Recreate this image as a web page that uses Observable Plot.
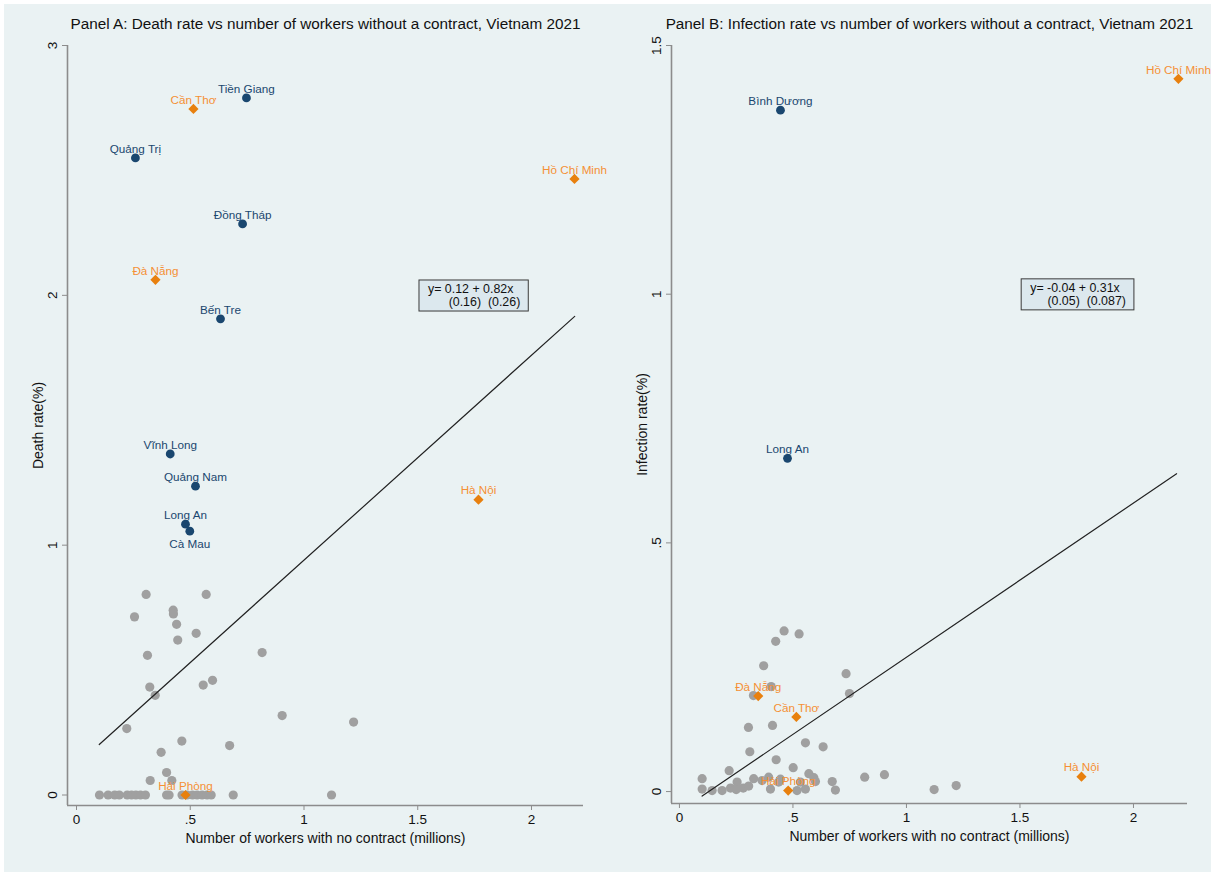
<!DOCTYPE html>
<html><head><meta charset="utf-8">
<script src="https://cdn.jsdelivr.net/npm/d3@7"></script>
<script src="https://cdn.jsdelivr.net/npm/@observablehq/plot@0.6"></script>
<style>
body{margin:0;background:#fff;}
#wrap{position:relative;width:1211px;height:872px;overflow:hidden;}
#bg{position:absolute;left:4px;top:4px;right:0;bottom:0;background:#eaf2f3;}
#pa{position:absolute;left:0;top:0;}
#pb{position:absolute;left:605px;top:0;}
</style></head><body>
<div id="wrap"><div id="bg"></div><div id="pa"></div><div id="pb"></div></div>
<script>
// ---------- Panel A: death rate ----------
const aTitle = "Panel A: Death rate vs number of workers without a contract, Vietnam 2021";
const aYLabel = "Death rate(%)";
const xLabel = "Number of workers with no contract (millions)";
const xTicks = [0, 0.5, 1, 1.5, 2];
const aYTicks = [0, 1, 2, 3];
const aNavyNames = ["Tiền Giang","Quảng Trị","Đồng Tháp","Bến Tre","Vĩnh Long","Quảng Nam","Long An","Cà Mau"];
const aNavyX = [0.747,0.259,0.730,0.633,0.412,0.523,0.479,0.498];
const aNavyY = [2.790,2.550,2.286,1.906,1.365,1.236,1.084,1.056];
const aOrangeNames = ["Cần Thơ","Hồ Chí Minh","Đà Nẵng","Hà Nội","Hải Phòng"];
const aOrangeX = [0.514,2.189,0.347,1.767,0.479];
const aOrangeY = [2.746,2.466,2.062,1.182,0.000];
const aGreyX = [0.306,0.570,0.255,0.425,0.426,0.440,0.526,0.445,0.312,0.816,0.322,0.346,0.557,0.598,0.221,0.904,1.218,0.463,0.673,0.372,0.396,0.324,0.419,
  0.101,0.139,0.168,0.188,0.223,0.242,0.261,0.281,0.303,0.396,0.407,0.464,0.486,0.510,0.530,0.552,0.574,0.592,0.689,1.121];
const aGreyY = [0.803,0.803,0.713,0.740,0.725,0.683,0.647,0.620,0.559,0.570,0.432,0.399,0.440,0.459,0.266,0.318,0.292,0.216,0.198,0.171,0.090,0.058,0.058,
  0,0,0,0,0,0,0,0,0,0,0,0,0,0,0,0,0,0,0,0];
const aFitX = [0.10, 2.19];
const aFitY = [0.202, 1.916];
const aBoxX = 1.545, aBoxY = 2.0;
const aBoxText = "y= 0.12 + 0.82x\n\u00a0\u00a0\u00a0\u00a0\u00a0\u00a0(0.16)\u00a0\u00a0(0.26)";

// ---------- Panel B: infection rate ----------
const bTitle = "Panel B: Infection rate vs number of workers without a contract, Vietnam 2021";
const bYLabel = "Infection rate(%)";
const bYTicks = [0, 0.5, 1, 1.5];
const bNavyNames = ["Bình Dương","Long An"];
const bNavyX = [0.445,0.476];
const bNavyY = [1.370,0.670];
const bOrangeNames = ["Hồ Chí Minh","Đà Nẵng","Cần Thơ","Hải Phòng","Hà Nội"];
const bOrangeX = [2.198,0.347,0.515,0.479,1.771];
const bOrangeY = [1.433,0.192,0.150,0.002,0.030];
const bGreyX = [0.461,0.527,0.424,0.371,0.734,0.404,0.749,0.326,0.304,0.410,0.555,0.633,0.310,0.426,0.501,0.219,0.570,0.592,0.599,0.816,0.903,1.219,1.122,
  0.100,0.100,0.144,0.188,0.225,0.254,0.250,0.281,0.305,0.327,0.364,0.401,0.437,0.533,0.518,0.555,0.673,0.687,0.393,0.445];
const bGreyY = [0.323,0.317,0.302,0.253,0.237,0.211,0.197,0.193,0.129,0.133,0.098,0.090,0.080,0.064,0.048,0.042,0.036,0.028,0.020,0.029,0.034,0.012,0.004,
  0.026,0.005,0.002,0.002,0.007,0.019,0.004,0.007,0.011,0.026,0.022,0.005,0.019,0.019,0.002,0.005,0.020,0.003,0.029,0.025];
const bFitX = [0.10, 2.19];
const bFitY = [-0.009, 0.639];
const bBoxX = 1.545, bBoxY = 1.0;
const bBoxText = "y= -0.04 + 0.31x\n\u00a0\u00a0\u00a0\u00a0\u00a0(0.05)\u00a0\u00a0(0.087)";

const NAVY = "#1a476f", ORANGE = "#e8800e", ORANGE_TXT = "#f59035", GREY = "#a0a0a0", AXIS = "#8c8c8c";
const fmt = d => d === 0 ? "0" : String(d).replace(/^0\./, ".");
const zip = (xs, ys, names) => xs.map((x, i) => ({x, y: ys[i], name: names ? names[i] : null}));

function panel(cfg) {
  const grey = zip(cfg.greyX, cfg.greyY);
  const navy = zip(cfg.navyX, cfg.navyY, cfg.navyNames);
  const orange = zip(cfg.orangeX, cfg.orangeY, cfg.orangeNames);
  const fit = zip(cfg.fitX, cfg.fitY);
  const below = new Set(cfg.below || []);
  return Plot.plot({
    width: cfg.width, height: 872,
    marginLeft: cfg.ml, marginRight: cfg.mr, marginTop: 45, marginBottom: cfg.mb,
    style: {background: "none", fontFamily: "'Liberation Sans', Arial, sans-serif", color: "#111"},
    x: {domain: cfg.xDomain},
    y: {domain: cfg.yDomain},
    marks: [
      Plot.dot(grey, {x: "x", y: "y", r: 4.6, fill: GREY}),
      Plot.line(fit, {x: "x", y: "y", stroke: "#222", strokeWidth: 1.2}),
      Plot.dot(navy, {x: "x", y: "y", r: 4.4, fill: NAVY}),
      Plot.dot(orange, {x: "x", y: "y", r: 4.6, symbol: "diamond2", fill: ORANGE}),
      Plot.text(navy.filter(d => !below.has(d.name)), {x: "x", y: "y", text: "name", fill: NAVY, fontSize: 11.7, dy: -9}),
      Plot.text(navy.filter(d => below.has(d.name)), {x: "x", y: "y", text: "name", fill: NAVY, fontSize: 11.7, dy: 13}),
      Plot.text(orange, {x: "x", y: "y", text: "name", fill: ORANGE_TXT, fontSize: 11.7, dy: -9}),
      Plot.text([cfg.boxText], {x: () => cfg.boxX, y: () => cfg.boxY, text: d => d, textAnchor: "start", lineAnchor: "middle", fontSize: 12.4, lineHeight: 1.05, fill: "#111", ariaDescription: "fitbox"}),
      Plot.ruleX([cfg.xDomain[0]], {stroke: AXIS, strokeWidth: 1.6}),
      Plot.ruleY([cfg.yDomain[0]], {stroke: AXIS, strokeWidth: 1.6}),
      Plot.axisX(xTicks, {tickSize: 5, tickPadding: 4, tickFormat: fmt, fontSize: 13.5, stroke: AXIS, fill: "#111", label: null}),
      Plot.axisY(cfg.yTicks, {tickSize: 5, tickFormat: () => "", stroke: AXIS, label: null}),
      Plot.text(cfg.yTicks, {y: d => d, text: fmt, frameAnchor: "left", textAnchor: "middle", lineAnchor: "middle", dx: -15, rotate: -90, fontSize: 13.5, fill: "#111"}),
      Plot.text([cfg.yLabel], {frameAnchor: "left", textAnchor: "middle", lineAnchor: "middle", dx: -29, rotate: -90, fontSize: 14, fill: "#111"}),
      Plot.text([xLabel], {frameAnchor: "bottom", textAnchor: "middle", lineAnchor: "middle", dy: 33, fontSize: 14, fill: "#111"}),
      Plot.text([cfg.title], {frameAnchor: "top", textAnchor: "middle", lineAnchor: "middle", dy: -21, fontSize: 15.3, fill: "#111"})
    ]
  });
}

function addBox(svg) {
  svg.querySelectorAll('g[aria-description="fitbox"] text').forEach(t => {
    const b = t.getBBox();
    const r = document.createElementNS("http://www.w3.org/2000/svg", "rect");
    r.setAttribute("x", b.x - 9);
    r.setAttribute("y", b.y - 2);
    r.setAttribute("width", b.width + 17);
    r.setAttribute("height", b.height + 4);
    r.setAttribute("fill", "#dce8ee");
    r.setAttribute("stroke", "#3a3a3a");
    r.setAttribute("stroke-width", "1");
    const tr = t.getAttribute("transform");
    if (tr) r.setAttribute("transform", tr);
    t.parentNode.insertBefore(r, t);
  });
}

// Panel A is drawn wider (its right margin overlaps Panel B's transparent left margin)
// so that the "Hồ Chí Minh" label is not cut off.
const svgA = panel({
  width: 645, ml: 67, mr: 62, mb: 67,
  xDomain: [-0.0396, 2.2286], yDomain: [-0.042, 3],
  greyX: aGreyX, greyY: aGreyY, navyX: aNavyX, navyY: aNavyY, navyNames: aNavyNames,
  orangeX: aOrangeX, orangeY: aOrangeY, orangeNames: aOrangeNames,
  fitX: aFitX, fitY: aFitY, boxX: aBoxX, boxY: aBoxY, boxText: aBoxText,
  yTicks: aYTicks, yLabel: aYLabel, title: aTitle, below: ["Cà Mau"]
});
document.getElementById("pa").appendChild(svgA);
addBox(svgA);

const svgB = panel({
  width: 606, ml: 66, mr: 24, mb: 69,
  xDomain: [-0.035, 2.238], yDomain: [-0.024, 1.5],
  greyX: bGreyX, greyY: bGreyY, navyX: bNavyX, navyY: bNavyY, navyNames: bNavyNames,
  orangeX: bOrangeX, orangeY: bOrangeY, orangeNames: bOrangeNames,
  fitX: bFitX, fitY: bFitY, boxX: bBoxX, boxY: bBoxY, boxText: bBoxText,
  yTicks: bYTicks, yLabel: bYLabel, title: bTitle, below: []
});
document.getElementById("pb").appendChild(svgB);
addBox(svgB);
</script>
</body></html>
